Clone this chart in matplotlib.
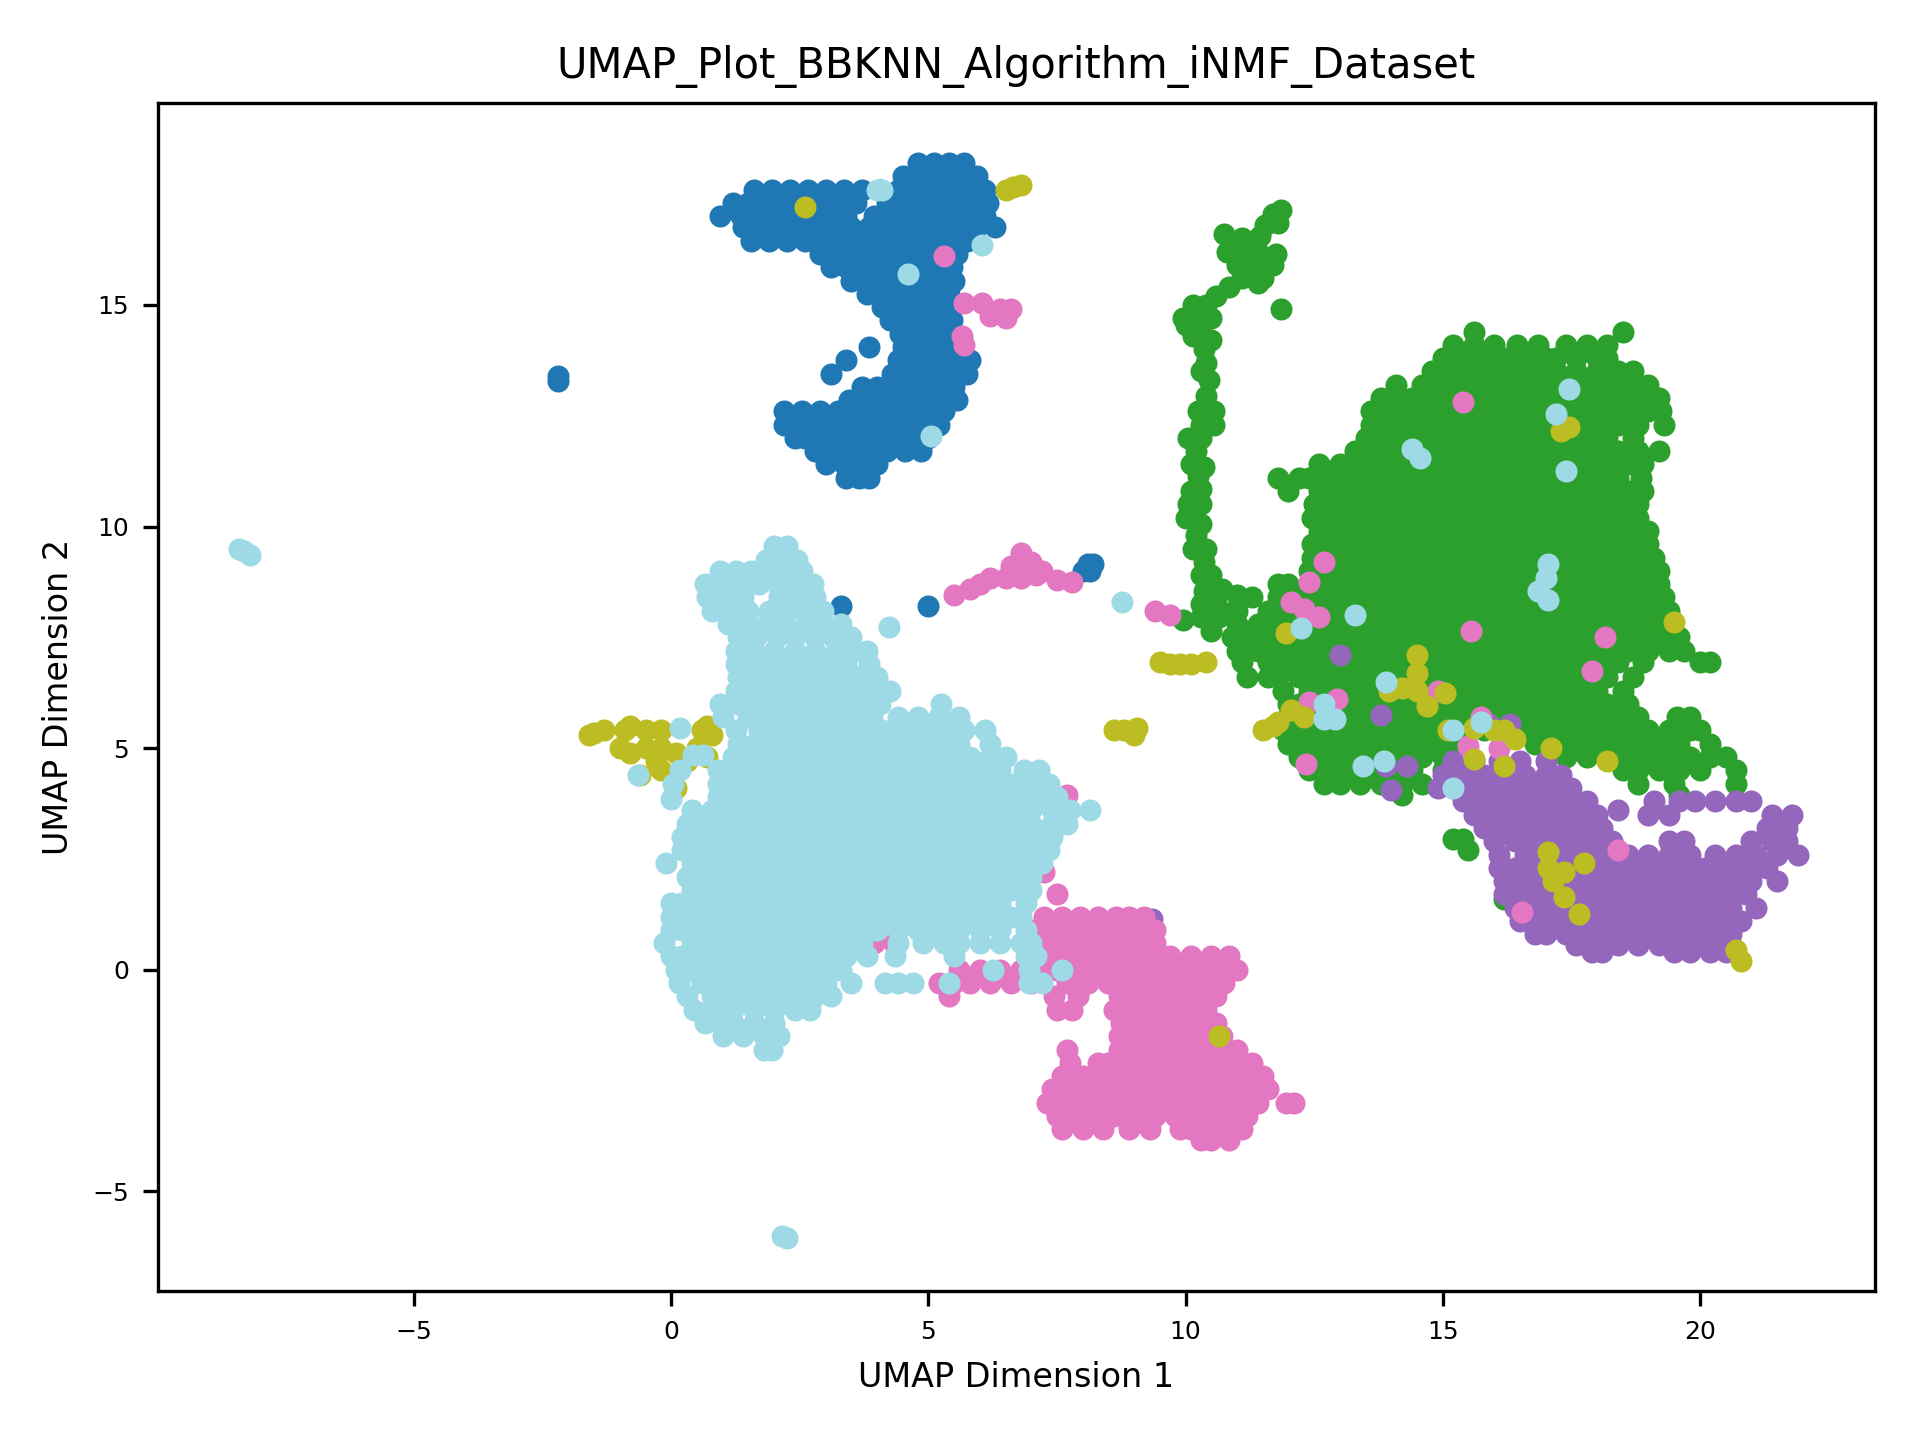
import numpy as np
import matplotlib
matplotlib.use('Agg')
import matplotlib.pyplot as plt

# colours (tab20 slots)
BLUE, GREEN, PURPLE, PINK, OLIVE, CYAN = '#1f77b4', '#2ca02c', '#9467bd', '#e377c2', '#bcbd22', '#9edae5'

# each row: (umap 2, [umap 1 values])
blue_rows = [
    (18.2, [4.8, 5.1, 5.4, 5.7]),
    (17.9, [4.5, 4.8, 5.1, 5.4, 5.7, 5.95]),
    (17.6, [1.6, 1.95, 2.3, 2.65, 3.0, 3.35, 3.7, 4.05, 4.4, 4.7, 5.0, 5.3, 5.6, 5.9, 6.1]),
    (17.3, [1.2, 1.5, 1.8, 2.15, 2.5, 2.85, 3.2, 3.6, 4.2, 4.55, 4.9, 5.2, 5.5, 5.8, 6.15]),
    (17.0, [0.95, 1.35, 1.7, 2.0, 2.35, 2.7, 3.0, 3.4, 3.95, 4.3, 4.7, 5.05, 5.4, 5.75, 6.1]),
    (16.75, [1.4, 1.75, 2.1, 2.45, 2.8, 3.15, 3.5, 3.85, 4.2, 4.55, 4.9, 5.25, 5.6, 5.95, 6.3]),
    (16.45, [1.55, 1.9, 2.25, 2.6, 2.95, 3.3, 3.65, 4.0, 4.35, 4.7, 5.05, 5.4, 5.75]),
    (16.15, [2.9, 3.2, 3.55, 3.9, 4.25, 4.6, 4.95, 5.3, 5.55]),
    (15.85, [3.1, 3.4, 3.75, 4.1, 4.45, 4.8, 5.15, 5.45]),
    (15.55, [3.5, 3.9, 4.25, 4.6, 4.95, 5.3, 5.5]),
    (15.25, [3.8, 4.1, 4.45, 4.8, 5.15, 5.4]),
    (14.95, [4.1, 4.4, 4.7, 5.0, 5.3]),
    (14.65, [4.25, 4.55, 4.85, 5.15, 5.45]),
    (14.35, [4.45, 4.75, 5.05, 5.35]),
    (14.05, [3.85, 4.5, 4.8, 5.1, 5.4]),
    (13.75, [3.4, 4.4, 4.7, 5.0, 5.3, 5.6, 5.8]),
    (13.45, [3.1, 4.3, 4.6, 4.9, 5.2, 5.5, 5.75]),
    (13.15, [3.7, 4.0, 4.3, 4.6, 4.9, 5.2, 5.5]),
    (12.85, [3.45, 3.8, 4.15, 4.5, 4.85, 5.2, 5.55]),
    (12.6, [2.2, 2.55, 2.9, 3.25, 3.6, 3.95, 4.3, 4.65, 5.0, 5.3]),
    (12.3, [2.2, 2.4, 2.75, 3.1, 3.45, 3.8, 4.15, 4.5, 4.85, 5.2]),
    (12.0, [2.4, 2.6, 2.95, 3.3, 3.65, 4.0, 4.35, 4.7, 5.0]),
    (11.7, [2.8, 3.15, 3.5, 3.85, 4.2, 4.55, 4.85]),
    (11.4, [3.0, 3.35, 3.7, 4.0]),
    (11.1, [3.4, 3.65, 3.85]),
    (13.4, [-2.2]),
    (13.28, [-2.2]),
    (8.2, [3.3, 5.0]),
    (9.0, [8.0, 8.15]),
    (9.15, [8.1, 8.2]),
]

green_rows = [
    (14.4, [15.6, 18.5]),
    (14.1, [15.2, 15.6, 16.0, 16.45, 16.85, 17.4, 17.8, 18.2]),
    (13.8, [15.0, 15.4, 15.8, 16.2, 16.6, 17.0, 17.2, 17.6, 18.0, 18.2]),
    (13.5, [14.8, 15.2, 15.6, 16.0, 16.4, 16.8, 17.2, 17.6, 18.0, 18.4, 18.7]),
    (13.2, [14.1, 14.6, 15.0, 15.4, 15.8, 16.2, 16.6, 17.0, 17.4, 17.8, 18.2, 18.6, 19.0]),
    (12.9, [13.8, 14.0, 14.4, 14.8, 15.2, 15.6, 16.0, 16.4, 16.8, 17.2, 17.6, 18.0, 18.4, 18.8, 19.2]),
    (12.6, [13.6, 13.8, 14.2, 14.6, 15.0, 15.4, 15.8, 16.2, 16.6, 17.0, 17.4, 17.8, 18.2, 18.6, 19.0, 19.25]),
    (12.3, [13.6, 14.0, 14.4, 14.8, 15.2, 15.6, 16.0, 16.4, 16.8, 17.2, 17.6, 18.0, 18.4, 18.8, 19.3]),
    (12.0, [13.5, 13.8, 14.2, 14.6, 15.0, 15.4, 15.8, 16.2, 16.6, 17.0, 17.4, 17.8, 18.2, 18.7]),
    (11.7, [13.3, 13.6, 14.0, 14.4, 14.8, 15.2, 15.6, 16.0, 16.4, 16.8, 17.2, 17.6, 18.0, 18.4, 18.8, 19.2]),
    (11.4, [12.6, 13.0, 13.4, 13.8, 14.2, 14.6, 15.0, 15.4, 15.8, 16.2, 16.6, 17.0, 17.4, 17.8, 18.2, 18.6, 18.9]),
    (11.1, [11.8, 12.2, 12.4, 12.8, 13.2, 13.6, 14.0, 14.4, 14.8, 15.2, 15.6, 16.0, 16.4, 16.8, 17.2, 17.6, 18.0, 18.4, 18.85]),
    (10.8, [12.0, 12.6, 13.0, 13.4, 13.8, 14.2, 14.6, 15.0, 15.4, 15.8, 16.2, 16.6, 17.0, 17.4, 17.8, 18.2, 18.6, 18.9]),
    (10.5, [12.5, 12.8, 13.2, 13.6, 14.0, 14.4, 14.8, 15.2, 15.6, 16.0, 16.4, 16.8, 17.2, 17.6, 18.0, 18.4, 18.8]),
    (10.2, [12.45, 12.6, 13.0, 13.4, 13.8, 14.2, 14.6, 15.0, 15.4, 15.8, 16.2, 16.6, 17.0, 17.4, 17.8, 18.2, 18.6, 18.8]),
    (9.9, [12.6, 12.8, 13.2, 13.6, 14.0, 14.4, 14.8, 15.2, 15.6, 16.0, 16.4, 16.8, 17.2, 17.6, 18.0, 18.4, 18.8, 19.0]),
    (9.6, [12.45, 12.6, 13.0, 13.4, 13.8, 14.2, 14.6, 15.0, 15.4, 15.8, 16.2, 16.6, 17.0, 17.4, 17.8, 18.2, 18.6, 19.0]),
    (9.3, [12.45, 12.8, 13.2, 13.6, 14.0, 14.4, 14.8, 15.2, 15.6, 16.0, 16.4, 16.8, 17.2, 17.6, 18.0, 18.4, 18.8, 19.1]),
    (9.0, [12.4, 12.6, 13.0, 13.4, 13.8, 14.2, 14.6, 15.0, 15.4, 15.8, 16.2, 16.6, 17.0, 17.4, 17.8, 18.2, 18.6, 19.0, 19.2]),
    (8.7, [11.8, 12.0, 12.4, 12.8, 13.2, 13.6, 14.0, 14.4, 14.8, 15.2, 15.6, 16.0, 16.4, 16.8, 17.2, 17.6, 18.0, 18.4, 18.8, 19.2]),
    (8.4, [11.3, 11.8, 12.2, 12.6, 13.0, 13.4, 13.8, 14.2, 14.6, 15.0, 15.4, 15.8, 16.2, 16.6, 17.0, 17.4, 17.8, 18.2, 18.6, 19.0, 19.3]),
    (8.1, [11.0, 11.6, 12.0, 12.4, 12.8, 13.2, 13.6, 14.0, 14.4, 14.8, 15.2, 15.6, 16.0, 16.4, 16.8, 17.2, 17.6, 18.0, 18.4, 18.8, 19.2, 19.4]),
    (7.8, [11.0, 11.4, 11.8, 12.2, 12.6, 13.0, 13.4, 13.8, 14.2, 14.6, 15.0, 15.4, 15.8, 16.2, 16.6, 17.0, 17.4, 17.8, 18.2, 18.6, 19.0, 19.4]),
    (7.5, [10.9, 11.2, 11.6, 12.0, 12.4, 12.8, 13.2, 13.6, 14.0, 14.4, 14.8, 15.2, 15.6, 16.0, 16.4, 16.8, 17.2, 17.6, 18.0, 18.4, 18.8, 19.2, 19.6]),
    (7.2, [11.0, 11.4, 11.8, 12.2, 12.6, 13.0, 13.4, 13.8, 14.2, 14.6, 15.0, 15.4, 15.8, 16.2, 16.6, 17.0, 17.4, 17.8, 18.2, 18.6, 19.0, 19.4, 19.7]),
    (6.95, [11.1, 11.6, 12.0, 12.4, 12.8, 13.2, 13.6, 14.0, 14.4, 14.8, 15.2, 15.6, 16.0, 16.4, 16.8, 17.2, 17.6, 18.0, 18.4, 18.9, 20.0, 20.2]),
    (6.6, [11.2, 11.6, 11.8, 12.2, 12.6, 13.0, 13.4, 13.8, 14.2, 14.6, 15.0, 15.4, 15.8, 16.2, 16.6, 17.0, 17.4, 17.8, 18.2, 18.7]),
    (6.3, [11.9, 12.4, 12.8, 13.2, 13.6, 14.0, 14.4, 14.8, 15.2, 15.6, 16.0, 16.4, 16.8, 17.2, 17.6, 18.0, 18.5]),
    (6.0, [12.0, 12.2, 12.6, 13.0, 13.4, 13.8, 14.2, 14.6, 15.0, 15.4, 15.8, 16.2, 16.6, 17.0, 17.4, 17.8, 18.2, 18.6]),
    (5.7, [12.0, 12.4, 12.8, 13.2, 13.6, 14.0, 14.4, 14.8, 15.2, 15.6, 16.0, 16.4, 16.8, 17.2, 17.6, 18.0, 18.4, 18.8, 19.55, 19.8]),
    (5.4, [11.9, 12.2, 12.6, 13.0, 13.4, 13.8, 14.2, 14.6, 15.0, 15.4, 15.8, 16.2, 16.6, 17.0, 17.4, 17.8, 18.2, 18.6, 19.0, 19.4, 19.8, 20.0]),
    (5.1, [12.0, 12.4, 12.8, 13.2, 13.6, 14.0, 14.4, 14.8, 15.2, 16.8, 17.2, 17.6, 18.0, 18.4, 18.8, 19.2, 19.6, 20.2]),
    (4.8, [12.2, 12.6, 13.0, 13.4, 13.8, 14.2, 14.6, 15.0, 17.4, 17.8, 18.2, 18.6, 19.0, 19.4, 19.8, 20.2, 20.5]),
    (4.5, [12.4, 12.8, 13.2, 13.6, 14.0, 14.4, 15.0, 18.5, 18.8, 19.2, 19.6, 20.0, 20.7]),
    (4.2, [12.7, 13.0, 13.4, 13.8, 14.2, 14.6, 18.8, 19.5, 20.7]),
    (3.95, [14.2, 19.6]),
    (2.95, [15.2, 15.4]),
    (2.7, [15.5]),
    (1.6, [16.2]),
]

# long thin arm of the green cluster
green_arm_x = [9.95, 10.5, 10.3, 10.65, 10.95, 10.3, 10.6, 11.0, 10.35, 10.7, 10.5, 10.3, 10.35, 10.15, 10.4, 10.2, 10.0, 10.3,
               10.05, 10.3, 10.1, 10.3, 10.25, 10.1, 10.35, 10.05, 10.2, 10.3, 10.3, 10.55, 10.25, 10.55, 10.4, 10.45, 10.3,
               10.4, 10.35, 10.15, 10.5, 10.0, 10.3, 9.95, 10.2, 10.5, 10.15, 10.4, 10.6, 10.85, 11.1, 11.4, 11.5, 11.0, 11.35,
               11.7, 10.8, 11.1, 11.4, 11.75, 10.75, 11.1, 11.45, 11.55, 11.8, 11.85, 11.7, 11.85]
green_arm_y = [7.9, 7.65, 7.95, 7.95, 8.1, 8.25, 8.3, 8.45, 8.55, 8.6, 8.9, 8.9, 9.2, 9.5, 9.5, 9.8, 10.2, 10.05,
               10.5, 10.5, 10.8, 10.85, 11.15, 11.4, 11.35, 12.0, 11.7, 12.0, 12.3, 12.3, 12.6, 12.6, 12.95, 13.3, 13.5,
               13.7, 14.0, 14.3, 14.2, 14.55, 14.55, 14.7, 14.8, 14.7, 15.0, 15.0, 15.2, 15.4, 15.6, 15.5, 15.6, 15.9, 15.9,
               15.9, 16.2, 16.2, 16.2, 16.15, 16.6, 16.5, 16.55, 16.8, 16.85, 17.15, 17.05, 14.9]

purple_rows = [
    (4.7, [15.2, 15.6, 16.1, 16.5, 17.0]),
    (4.4, [15.0, 15.4, 15.8, 16.2, 16.6, 17.0, 17.3]),
    (4.1, [14.9, 15.2, 15.6, 16.0, 16.4, 16.8, 17.2, 17.5]),
    (3.8, [15.4, 15.8, 16.2, 16.6, 17.0, 17.4, 17.8, 19.1, 19.6, 19.9, 20.3, 20.7, 21.0]),
    (3.6, [18.4]),
    (3.5, [15.6, 16.0, 16.4, 16.8, 17.2, 17.6, 18.0, 19.0, 19.4, 21.4, 21.8]),
    (3.2, [15.8, 16.2, 16.6, 17.0, 17.4, 17.8, 18.1, 21.3, 21.7]),
    (2.9, [16.0, 16.4, 16.8, 17.2, 17.6, 18.0, 18.3, 19.4, 19.7, 21.0, 21.4, 21.7]),
    (2.6, [16.1, 16.6, 17.0, 17.4, 17.8, 18.2, 18.6, 19.0, 19.4, 19.8, 20.3, 20.7, 21.1, 21.5, 21.9]),
    (2.3, [16.1, 16.4, 16.8, 17.2, 17.6, 18.0, 18.4, 18.8, 19.2, 19.6, 19.8, 20.1, 20.5, 20.9, 21.3]),
    (2.0, [16.2, 16.6, 17.0, 17.4, 17.8, 18.2, 18.6, 19.0, 19.4, 19.8, 20.2, 20.6, 21.0, 21.5]),
    (1.7, [16.2, 16.4, 16.8, 17.2, 17.6, 18.0, 18.4, 18.8, 19.2, 19.6, 20.0, 20.4, 20.6, 20.9]),
    (1.4, [16.4, 16.6, 17.0, 17.4, 17.8, 18.2, 18.6, 19.0, 19.4, 19.8, 20.2, 20.6, 21.1]),
    (1.1, [16.5, 16.8, 17.2, 17.6, 18.0, 18.4, 18.8, 19.2, 19.6, 20.0, 20.4, 20.8]),
    (0.8, [16.8, 17.0, 17.4, 17.8, 18.2, 18.6, 19.0, 19.4, 19.8, 20.2, 20.6]),
    (0.55, [17.6, 18.0, 18.4, 18.8, 19.2, 19.6, 20.0, 20.4, 20.6]),
    (0.4, [17.9, 18.1, 19.5, 19.8, 20.2, 20.5]),
    (7.1, [13.0]),
    (5.75, [13.8]),
    (4.6, [14.3, 13.9]),
    (4.05, [14.0]),
    (1.15, [9.35]),
    (5.55, [15.9, 16.3]),
]

pink_rows = [
    (1.7, [7.5]),
    (1.2, [7.25, 7.6, 7.95, 8.3, 8.65, 8.9, 9.2]),
    (0.9, [7.0, 7.35, 7.7, 8.05, 8.45, 8.8, 9.15, 9.4]),
    (0.6, [3.95, 4.33, 7.1, 7.5, 7.9, 8.3, 8.7, 9.1, 9.4]),
    (0.3, [7.0, 7.3, 7.7, 8.1, 8.5, 8.9, 9.3, 9.7, 10.1, 10.5, 10.85]),
    (0.0, [5.6, 6.0, 6.4, 6.8, 7.1, 7.5, 7.9, 8.3, 8.7, 9.1, 9.5, 9.9, 10.3, 10.7, 11.0]),
    (-0.3, [5.2, 5.5, 5.8, 6.2, 6.6, 7.0, 7.7, 8.1, 8.5, 8.9, 9.3, 9.7, 10.1, 10.5, 10.75]),
    (-0.6, [5.4, 7.45, 7.9, 8.7, 9.1, 9.5, 9.9, 10.3, 10.6]),
    (-0.9, [7.5, 7.8, 8.6, 8.9, 9.3, 9.7, 10.1, 10.4]),
    (-1.2, [8.75, 9.1, 9.5, 9.9, 10.3, 10.6]),
    (-1.5, [8.7, 8.9, 9.3, 9.7, 10.1, 10.5, 10.7]),
    (-1.8, [7.7, 8.7, 9.1, 9.5, 9.9, 10.3, 10.7, 11.0]),
    (-2.1, [7.75, 8.3, 8.5, 8.9, 9.3, 9.7, 10.1, 10.5, 10.9, 11.3]),
    (-2.4, [7.6, 8.0, 8.35, 8.7, 9.1, 9.5, 9.9, 10.3, 10.7, 11.1, 11.5]),
    (-2.7, [7.4, 7.8, 8.2, 8.6, 9.0, 9.4, 9.8, 10.2, 10.6, 11.0, 11.4, 11.6]),
    (-3.0, [7.3, 7.6, 8.0, 8.4, 8.8, 9.2, 9.6, 10.0, 10.4, 10.8, 11.2, 11.4, 11.95, 12.1]),
    (-3.3, [7.5, 7.8, 8.2, 8.6, 9.0, 9.4, 9.8, 10.2, 10.6, 11.0, 11.2]),
    (-3.6, [7.6, 8.0, 8.4, 8.9, 9.3, 9.9, 10.1, 10.5, 10.9, 11.1]),
    (-3.85, [10.3, 10.5, 10.85]),
]

# scattered pink points and the small arc
pink_extra_x = [5.5, 5.8, 6.0, 6.2, 6.5, 6.8, 6.6, 6.9, 6.8, 7.0, 7.2, 7.5, 7.8, 7.1, 5.3, 5.7, 6.05, 6.2, 6.4, 6.6, 6.5,
                5.65, 5.7, 15.4, 12.7, 12.4, 12.05, 12.3, 12.6, 15.55, 18.15, 17.9, 12.4, 12.95, 12.35, 14.9, 15.75,
                15.5, 16.1, 9.4, 9.7, 18.4, 16.55, 7.7, 7.25]
pink_extra_y = [8.45, 8.6, 8.7, 8.85, 8.85, 8.85, 9.1, 9.2, 9.4, 9.2, 9.0, 8.8, 8.75, 8.9, 16.1, 15.05, 15.05, 14.75, 14.9, 14.9, 14.7,
                14.3, 14.1, 12.8, 9.2, 8.75, 8.3, 8.15, 7.95, 7.65, 7.5, 6.75, 6.05, 6.1, 4.65, 6.3, 5.7,
                5.05, 5.0, 8.1, 8.0, 2.7, 1.3, 3.95, 2.2]

olive_x = [2.6, 6.5, 6.65, 6.8, -1.6, -1.5, -1.3, -0.9, -0.8, -0.5, -1.0, -0.8, -0.5, -0.2, -0.2, -0.3, -0.2, 0.1, 0.3, 0.1,
           0.6, 0.7, 0.8, 0.5, 0.7, -0.6, 9.5, 9.7, 9.9, 10.1, 10.4, 8.6, 8.8, 9.0, 9.05, 11.95, 12.05, 11.8, 11.7, 11.5, 12.3,
           14.5, 14.5, 14.45, 14.2, 13.95, 14.7, 15.05, 14.5, 15.1, 15.6, 16.0, 16.2, 16.4, 16.2, 15.6, 17.1, 18.2,
           17.45, 17.3, 19.5, 17.05, 17.05, 17.35, 17.15, 17.35, 17.75, 17.65, 20.7, 20.8, 10.65]
olive_y = [17.2, 17.6, 17.65, 17.7, 5.3, 5.35, 5.4, 5.4, 5.5, 5.4, 5.0, 4.9, 5.0, 5.4, 5.0, 4.7, 4.5, 4.9, 4.7, 4.1,
           5.4, 5.5, 5.3, 5.0, 4.8, 4.4, 6.95, 6.9, 6.9, 6.9, 6.95, 5.4, 5.4, 5.3, 5.45, 7.6, 5.85, 5.6, 5.5, 5.4, 5.7,
           7.1, 6.7, 6.4, 6.35, 6.3, 5.95, 6.25, 6.3, 5.4, 5.45, 5.4, 5.4, 5.2, 4.6, 4.75, 5.0, 4.7,
           12.25, 12.15, 7.85, 2.65, 2.3, 2.2, 2.0, 1.65, 2.4, 1.25, 0.45, 0.2, -1.5]

cyan_rows = [
    (9.55, [2.0, 2.25]),
    (9.25, [1.85, 2.2, 2.45]),
    (9.0, [0.95, 1.25, 1.55, 1.9, 2.25, 2.55]),
    (8.7, [0.65, 1.0, 1.35, 1.7, 2.05, 2.4, 2.75]),
    (8.4, [0.7, 1.05, 1.4, 2.1, 2.45, 2.8]),
    (8.1, [0.8, 1.15, 1.5, 1.9, 2.25, 2.6, 2.95]),
    (7.8, [1.1, 1.45, 1.85, 2.2, 2.6, 2.95, 3.3]),
    (7.5, [1.3, 1.65, 2.05, 2.4, 2.8, 3.15, 3.5]),
    (7.2, [1.25, 1.6, 2.0, 2.4, 2.8, 3.2, 3.55, 3.8]),
    (6.9, [1.25, 1.45, 1.85, 2.25, 2.65, 3.05, 3.4, 3.85]),
    (6.6, [1.3, 1.65, 2.05, 2.45, 2.85, 3.25, 3.6, 4.0]),
    (6.3, [1.25, 1.5, 1.9, 2.3, 2.7, 3.1, 3.5, 3.9, 4.25]),
    (6.0, [0.95, 1.3, 1.7, 2.1, 2.5, 2.9, 3.3, 3.7, 4.05, 5.25]),
    (5.7, [1.0, 1.5, 1.9, 2.3, 2.7, 3.1, 3.5, 3.9, 4.4, 4.8, 5.2, 5.6]),
    (5.4, [1.25, 1.7, 2.1, 2.5, 2.9, 3.3, 3.7, 4.1, 4.5, 4.9, 5.3, 5.7, 6.1]),
    (5.1, [1.3, 1.6, 2.0, 2.4, 2.8, 3.2, 3.6, 4.0, 4.4, 4.8, 5.2, 5.6, 6.2]),
    (4.8, [1.2, 1.4, 1.8, 2.2, 2.6, 3.0, 3.4, 3.8, 4.2, 4.6, 5.0, 5.4, 5.8, 6.2, 6.5]),
    (4.5, [0.9, 1.2, 1.6, 2.0, 2.4, 2.8, 3.2, 3.6, 4.0, 4.4, 4.8, 5.2, 5.6, 6.0, 6.4, 6.85, 7.15]),
    (4.2, [0.9, 1.15, 1.4, 1.8, 2.2, 2.6, 3.0, 3.4, 3.8, 4.2, 4.6, 5.0, 5.4, 5.8, 6.2, 6.6, 7.0, 7.35]),
    (3.9, [0.9, 1.2, 1.6, 2.0, 2.4, 2.8, 3.2, 3.6, 4.0, 4.4, 4.8, 5.2, 5.6, 6.0, 6.4, 6.8, 7.2, 7.5]),
    (3.6, [0.4, 0.8, 1.1, 1.4, 1.8, 2.2, 2.6, 3.0, 3.4, 3.8, 4.2, 4.6, 5.0, 5.4, 5.8, 6.2, 6.6, 7.0, 7.4, 7.75, 8.15]),
    (3.3, [0.3, 0.6, 1.0, 1.2, 1.6, 2.0, 2.4, 2.8, 3.2, 3.6, 4.0, 4.4, 4.8, 5.2, 5.6, 6.0, 6.4, 6.8, 7.0, 7.4, 7.7]),
    (3.0, [0.2, 0.4, 0.8, 1.1, 1.4, 1.8, 2.2, 2.6, 3.0, 3.4, 3.8, 4.2, 4.6, 5.0, 5.4, 5.8, 6.2, 6.6, 6.9, 7.2, 7.4]),
    (2.7, [0.2, 0.6, 1.0, 1.2, 1.6, 2.0, 2.4, 2.8, 3.2, 3.6, 4.0, 4.4, 4.8, 5.2, 5.6, 6.0, 6.4, 6.8, 7.0, 7.35]),
    (2.4, [-0.1, 0.4, 0.8, 1.1, 1.4, 1.8, 2.2, 2.6, 3.0, 3.4, 3.8, 4.2, 4.6, 5.0, 5.4, 5.8, 6.2, 6.6, 6.9, 7.2]),
    (2.1, [0.3, 0.6, 1.0, 1.2, 1.6, 2.0, 2.4, 2.8, 3.2, 3.6, 4.0, 4.4, 4.8, 5.2, 5.6, 6.0, 6.4, 6.8, 7.0]),
    (1.8, [0.4, 0.8, 1.1, 1.4, 1.8, 2.2, 2.6, 3.0, 3.4, 3.8, 4.2, 4.6, 5.0, 5.4, 5.8, 6.2, 6.6, 7.0]),
    (1.5, [0.0, 0.2, 0.6, 1.0, 1.2, 1.6, 2.0, 2.4, 2.8, 3.2, 3.6, 4.0, 4.4, 4.8, 5.2, 5.6, 6.0, 6.4, 6.9]),
    (1.2, [0.0, 0.4, 0.8, 1.1, 1.4, 1.8, 2.2, 2.6, 3.0, 3.4, 3.8, 4.2, 4.6, 5.0, 5.4, 5.8, 6.2, 6.6, 6.8]),
    (0.9, [0.0, 0.2, 0.6, 1.0, 1.2, 1.6, 2.0, 2.4, 2.8, 3.2, 3.6, 4.0, 4.4, 4.8, 5.2, 5.6, 6.0, 6.4, 6.9]),
    (0.6, [-0.15, 0.4, 0.8, 1.1, 1.4, 1.8, 2.2, 2.6, 3.0, 3.4, 3.7, 4.4, 4.9, 5.3, 5.6, 6.0, 6.4, 6.8, 7.0]),
    (0.3, [0.0, 0.2, 0.6, 1.0, 1.2, 1.6, 2.0, 2.4, 2.8, 3.2, 3.4, 3.8, 4.35, 5.5, 6.9, 7.1]),
    (0.0, [0.1, 0.4, 0.8, 1.1, 1.4, 1.8, 2.2, 2.6, 3.0, 3.3, 6.25, 6.95, 7.6]),
    (-0.3, [0.15, 0.6, 1.0, 1.2, 1.6, 2.0, 2.4, 2.8, 3.0, 3.5, 4.15, 4.4, 4.7, 5.4, 6.95, 7.2]),
    (-0.6, [0.3, 0.8, 1.1, 1.4, 1.8, 2.2, 2.6, 2.8, 3.1]),
    (-0.9, [0.45, 0.75, 1.0, 1.2, 1.6, 2.0, 2.4, 2.7]),
    (-1.2, [0.65, 0.95, 1.2, 1.6, 2.0]),
    (-1.5, [1.0, 1.4, 1.8, 2.1]),
    (-1.8, [1.8, 1.95]),
]

# cyan points away from the main blob
cyan_extra_x = [-8.4, -8.3, -8.2, 2.15, 2.25, 4.24, 8.77, 0.17, 0.43, 0.62, 0.17, 0.04, 0.0, -0.65,
                17.45, 17.2, 14.4, 14.55, 17.4, 17.05, 17.0, 16.85, 17.05, 13.3, 12.25, 13.9, 12.7, 12.7, 12.9, 15.2, 15.75,
                13.45, 13.85, 15.2, 4.1, 4.0, 4.6, 6.05, 5.05]
cyan_extra_y = [9.5, 9.45, 9.35, -6.0, -6.05, 7.74, 8.3, 5.45, 4.85, 4.85, 4.5, 4.2, 3.85, 4.4,
                13.1, 12.55, 11.75, 11.55, 11.25, 9.15, 8.85, 8.55, 8.35, 8.0, 7.7, 6.5, 6.0, 5.65, 5.65, 5.4, 5.6,
                4.6, 4.7, 4.1, 17.6, 17.6, 15.7, 16.35, 12.05]


def flatten(rows):
    xs, ys = [], []
    for y, row in rows:
        xs += row
        ys += [y] * len(row)
    return xs, ys


fig, ax = plt.subplots(figsize=(6.4, 4.8), dpi=300)

x, y = flatten(blue_rows)
ax.scatter(x, y, s=28, c=BLUE, linewidths=0)
x, y = flatten(green_rows)
ax.scatter(x + green_arm_x, y + green_arm_y, s=28, c=GREEN, linewidths=0)
x, y = flatten(purple_rows)
ax.scatter(x, y, s=28, c=PURPLE, linewidths=0)
x, y = flatten(pink_rows)
ax.scatter(x + pink_extra_x, y + pink_extra_y, s=28, c=PINK, linewidths=0)
ax.scatter(olive_x, olive_y, s=28, c=OLIVE, linewidths=0)
x, y = flatten(cyan_rows)
ax.scatter(x + cyan_extra_x, y + cyan_extra_y, s=28, c=CYAN, linewidths=0)

ax.set_xlim(-9.98, 23.4)
ax.set_ylim(-7.24, 19.56)
ax.set_xticks([-5, 0, 5, 10, 15, 20])
ax.set_yticks([-5, 0, 5, 10, 15])
ax.tick_params(labelsize=6)
ax.set_xlabel('UMAP Dimension 1', fontsize=8)
ax.set_ylabel('UMAP Dimension 2', fontsize=8)
ax.set_title('UMAP_Plot_BBKNN_Algorithm_iNMF_Dataset', fontsize=10)

fig.subplots_adjust(left=0.0823, right=0.9764, top=0.9286, bottom=0.1037)
fig.savefig('out.png', dpi=300)
